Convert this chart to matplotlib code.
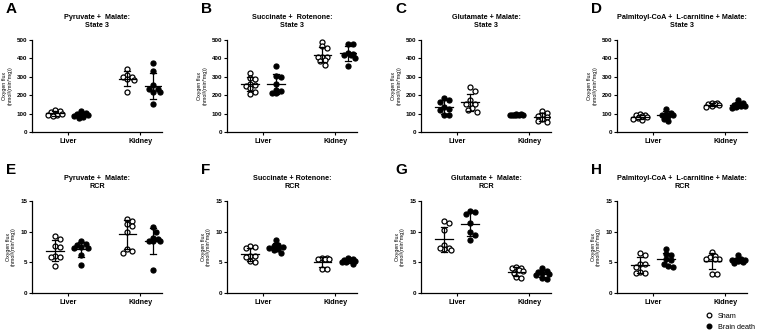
import numpy as np
import matplotlib
matplotlib.use("Agg")
import matplotlib.pyplot as plt
from matplotlib.lines import Line2D

plt.rcParams['font.family'] = ['Liberation Sans', 'DejaVu Sans']

# ---- data ----
categories = ['Liver', 'Kidney']
panel_letters = ['A', 'B', 'C', 'D', 'E', 'F', 'G', 'H']
panel_titles = [
    'Pyruvate +  Malate:\nState 3',
    'Succinate +  Rotenone:\nState 3',
    'Glutamate + Malate:\nState 3',
    'Palmitoyl-CoA +  L-carnitine + Malate:\nState 3',
    'Pyruvate +  Malate:\nRCR',
    'Succinate + Rotenone:\nRCR',
    'Glutamate +  Malate:\nRCR',
    'Palmitoyl-CoA +  L-carnitine + Malate:\nRCR',
]
state3_ticks = [0, 100, 200, 300, 400, 500]
rcr_ticks = [0, 5, 10, 15]

# sham / brain death values per panel, [liver, kidney]
sham_A = [[120, 115, 110, 100, 95, 90, 85, 100], [340, 310, 300, 300, 290, 280, 215]]
bd_A = [[115, 105, 100, 95, 90, 85, 80, 75], [375, 330, 255, 235, 235, 220, 215, 150]]
sham_B = [[320, 295, 290, 260, 255, 250, 240, 220, 205], [490, 465, 455, 410, 410, 410, 390, 385, 365]]
bd_B = [[360, 305, 300, 260, 230, 225, 210, 210], [480, 480, 430, 425, 420, 420, 400, 360]]
sham_C = [[245, 225, 175, 150, 150, 150, 130, 120, 110], [115, 105, 90, 85, 80, 70, 60, 55]]
bd_C = [[185, 175, 165, 135, 125, 120, 95, 90], [100, 98, 95, 95, 93, 92, 90, 95]]
sham_D = [[100, 95, 90, 85, 80, 75, 70, 65], [160, 155, 150, 150, 145, 140, 135]]
bd_D = [[125, 105, 100, 95, 90, 85, 70, 60], [175, 160, 150, 145, 140, 140, 135, 130]]
sham_E = [[9.3, 8.8, 7.6, 7.5, 6.0, 5.8, 5.8, 4.4], [12.0, 11.8, 11.2, 11.0, 10.0, 7.2, 6.6, 6.8]]
bd_E = [[8.4, 8.0, 7.8, 7.5, 7.3, 7.3, 6.2, 4.5], [10.7, 10.0, 9.0, 8.8, 8.5, 8.4, 8.5, 3.7]]
sham_F = [[7.6, 7.5, 7.3, 6.0, 6.0, 5.9, 5.2, 5.0], [5.7, 5.7, 5.6, 5.5, 5.5, 3.9, 3.9]]
bd_F = [[8.6, 7.9, 7.6, 7.5, 7.3, 7.2, 7.0, 6.5], [5.7, 5.5, 5.4, 5.3, 5.2, 5.1, 5.0, 4.8]]
sham_G = [[11.8, 11.4, 10.2, 7.9, 7.3, 7.1, 7.0, 7.3], [4.2, 4.1, 4.0, 3.8, 3.6, 3.3, 2.6, 2.4]]
bd_G = [[13.3, 13.2, 12.9, 11.4, 10.0, 9.4, 8.6], [4.0, 3.6, 3.5, 3.3, 3.1, 2.9, 2.5, 2.3]]
sham_H = [[6.6, 6.2, 4.8, 4.7, 4.2, 3.5, 3.3, 3.3], [6.7, 6.0, 5.8, 5.6, 5.6, 5.5, 3.1, 3.1]]
bd_H = [[7.2, 6.4, 6.2, 5.5, 5.3, 4.8, 4.4, 4.2], [6.2, 5.5, 5.4, 5.3, 5.3, 5.2, 5.0, 4.9]]

sham_all = [sham_A, sham_B, sham_C, sham_D, sham_E, sham_F, sham_G, sham_H]
bd_all = [bd_A, bd_B, bd_C, bd_D, bd_E, bd_F, bd_G, bd_H]
# panel C shows brain death first, sham second
bd_first = [False, False, True, False, False, False, False, False]


def swarm(vals, ymax, xscale=72.0, yscale=92.0, d=4.5):
    """compact beeswarm offsets (data units in x); overlap allowed when crowded"""
    vals = np.asarray(vals, float)
    ypix = vals / ymax * yscale
    order = np.argsort(-vals)
    placed = []
    offs = np.zeros(len(vals))
    cands = [0.0]
    for k in range(1, 4):
        cands += [k * 0.5 * d, -k * 0.5 * d]
    for i in order:
        best, bestd = 0.0, -1
        for c in cands:
            md = min([np.hypot(c - px, ypix[i] - py) for px, py in placed] + [99])
            if md >= d:
                best = c
                break
            if md > bestd:
                best, bestd = c, md
        placed.append((best, ypix[i]))
        offs[i] = best / xscale
    return offs


fig = plt.figure(figsize=(7.6, 3.36), dpi=100)
W, H = 760.0, 336.0
lefts = [32, 227, 421, 617]
tops = [40, 201]
aw, ah = 130, 92

for p in range(8):
    r, c = divmod(p, 4)
    ax = fig.add_axes([lefts[c] / W, 1 - (tops[r] + ah) / H, aw / W, ah / H])
    ymax = 500 if r == 0 else 15
    groups = [sham_all[p], bd_all[p]]
    filled = [False, True]
    if bd_first[p]:
        groups = groups[::-1]
        filled = filled[::-1]
    for ci in range(2):
        for gi in range(2):
            vals = np.array(groups[gi][ci], float)
            xc = ci + (-0.18 if gi == 0 else 0.18)
            xs = xc + swarm(vals, ymax)
            ax.scatter(xs, vals, s=13, marker='o',
                       facecolor='black' if filled[gi] else 'white',
                       edgecolor='black', linewidths=0.9, zorder=3, clip_on=False)
            m, sd = vals.mean(), vals.std(ddof=1)
            ax.plot([xc - 0.12, xc + 0.12], [m, m], color='black', lw=0.9, zorder=4)
            ax.plot([xc, xc], [m - sd, m + sd], color='black', lw=0.9, zorder=4)
            for yy in (m - sd, m + sd):
                ax.plot([xc - 0.04, xc + 0.04], [yy, yy], color='black', lw=0.9, zorder=4)

    ax.set_xlim(-0.5, 1.3)
    ax.set_ylim(0, ymax)
    ax.set_yticks(state3_ticks if r == 0 else rcr_ticks)
    ax.set_xticks([0, 1])
    ax.set_xticklabels(categories, fontsize=5.2, fontweight='bold')
    for s in ('top', 'right'):
        ax.spines[s].set_visible(False)
    for s in ('left', 'bottom'):
        ax.spines[s].set_linewidth(0.9)
    ax.tick_params(axis='y', labelsize=4.5, length=2.5, width=0.8, pad=1)
    ax.tick_params(axis='x', length=2, width=0.8, pad=2)
    for t in ax.get_yticklabels():
        t.set_fontweight('bold')
    ax.set_ylabel('Oxygen flux\n(nmol/(min*mg))', fontsize=3.8, labelpad=3, linespacing=1.1)
    ax.set_title(panel_titles[p], fontsize=5.2, fontweight='bold', pad=9, linespacing=1.3)
    fig.text((lefts[c] - 26) / W, 1 - (tops[r] - 31) / H, panel_letters[p],
             fontsize=11, fontweight='bold', ha='left', va='center')

handles = [
    Line2D([], [], ls='none', marker='o', ms=3.4, mfc='white', mec='black', mew=0.9, label='Sham'),
    Line2D([], [], ls='none', marker='o', ms=3.4, mfc='black', mec='black', mew=0.9, label='Brain death'),
]
fig.legend(handles=handles, loc='lower left', bbox_to_anchor=(700 / W, 0.0),
           frameon=False, fontsize=5.2, handletextpad=0.8, labelspacing=0.6,
           handlelength=1.0, borderpad=0.2)

fig.savefig('out.png', dpi=100, facecolor='white')
